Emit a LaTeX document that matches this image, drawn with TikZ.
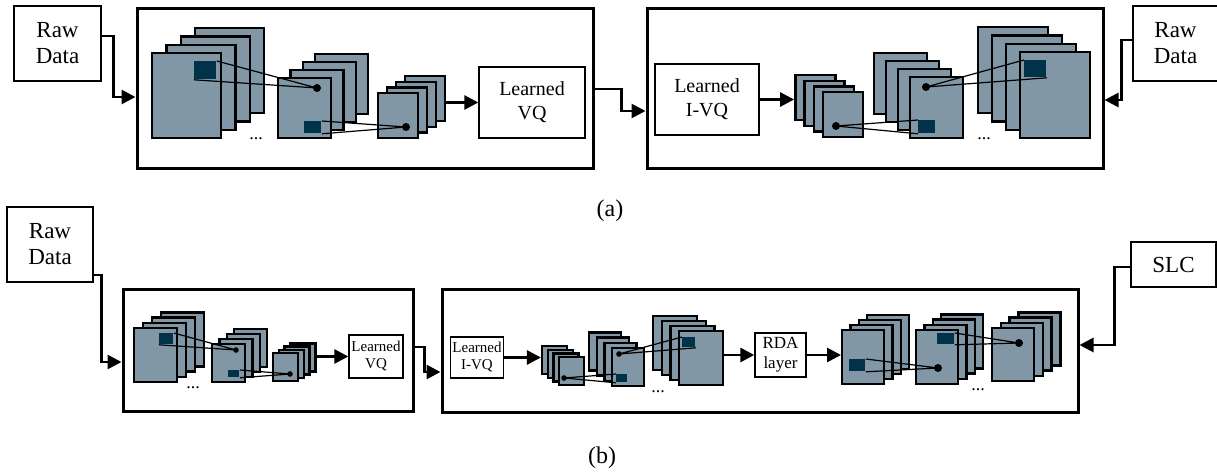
\documentclass[tikz,border=0pt]{standalone}
\usepackage{fontspec}
\setmainfont{Liberation Serif}
\usepackage{tikz}
\usetikzlibrary{positioning}
\usetikzlibrary{arrows.meta}
\usetikzlibrary{calc}

\definecolor{mapgray}{RGB}{129,151,165}
\definecolor{patchblue}{RGB}{0,51,74}

\tikzstyle{frame} = [draw, rectangle, line width=1.5pt, inner sep=0pt]
\tikzstyle{block} = [draw, fill=white, rectangle, line width=0.7pt, inner sep=1pt, align=center]
\tikzstyle{fmap} = [draw, fill=mapgray, rectangle, line width=1.2pt, inner sep=0pt, anchor=north west]
\tikzstyle{patch} = [fill=patchblue, rectangle, inner sep=0pt, anchor=north west]
\tikzstyle{branch} = [circle, inner sep=0pt, minimum size=4pt, fill=black]
\tikzstyle{sbranch} = [branch, minimum size=2.8pt]
\tikzstyle{flow} = [->, line width=1.4pt]
\tikzstyle{link} = [line width=0.6pt]
\tikzstyle{gap} = [inner sep=0pt, font=\fontsize{9}{9}\selectfont]

\newcommand{\bigtxt}{\fontsize{11.5}{13}\selectfont}
\newcommand{\midtxt}{\fontsize{10}{12}\selectfont}
\newcommand{\smalltxt}{\fontsize{7.5}{8.5}\selectfont}
\newcommand{\rdatxt}{\fontsize{8.5}{10}\selectfont}

% four feature maps: name, front corner x, y, width, height, layer offset x, y
\newcommand{\fstack}[7]{%
	\foreach \lay in {3,2,1}
		\node [fmap, minimum width=#4, minimum height=#5] (#1-\lay) at ({#2+\lay*(#6)},{#3+\lay*(#7)}) {};
	\node [fmap, minimum width=#4, minimum height=#5] (#1) at (#2,#3) {};
}

\begin{document}
\begin{tikzpicture}[auto, x=0.5pt, y=-0.5pt, >={Triangle[length=7pt, width=7pt]}]
	\useasboundingbox (0,0) rectangle (1217,476);

	% ---- (a) ----
	\node [block, minimum width=43.5pt, minimum height=37.5pt, font=\bigtxt] (rawA) at (57.5,43.5) {Raw\\Data};
	\node [frame, minimum width=228pt, minimum height=80pt] (encA) at (365,89) {};
	\node [frame, minimum width=228pt, minimum height=80pt] (decA) at (875,89) {};
	\node [block, minimum width=42.5pt, minimum height=37.5pt, font=\bigtxt] (rawA2) at (1175.5,43.5) {Raw\\Data};

	\fstack{A1}{151}{52}{34.5pt}{42.5pt}{14.3}{-8.3}
	\fstack{A2}{277}{77}{26.5pt}{30pt}{12.3}{-8}
	\fstack{A3}{377}{92}{20pt}{22.5pt}{9}{-5.7}
	\node [block, minimum width=53pt, minimum height=35.5pt, font=\midtxt] (vqA) at (532,102.5) {Learned\\VQ};

	\node [block, minimum width=52pt, minimum height=35.5pt, font=\midtxt] (ivqA) at (707,99.5) {Learned\\I-VQ};
	\fstack{A4}{822}{91}{20pt}{22.5pt}{-9.3}{-5.7}
	\fstack{A5}{909}{76}{26.5pt}{30.5pt}{-12}{-8}
	\fstack{A6}{1019}{51}{35pt}{43pt}{-14}{-8.3}

	\node [patch, minimum width=11pt, minimum height=9pt] (pA1) at (194,61) {};
	\node [patch, minimum width=8.5pt, minimum height=6pt] (pA2) at (304,121) {};
	\node [patch, minimum width=8.5pt, minimum height=6.5pt] (pA5) at (918,120) {};
	\node [patch, minimum width=11pt, minimum height=8.5pt] (pA6) at (1024,60) {};
	\node [branch] (dA2) at (317,88) {};
	\node [branch] (dA3) at (406,127) {};
	\node [branch] (dA4) at (836,126) {};
	\node [branch] (dA5) at (926,87) {};
	\draw [link] (pA1.north east) -- (dA2.center) (pA1.south west) -- (dA2.center);
	\draw [link] (pA2.north east) -- (dA3.center) (pA2.south east) -- (dA3.center);
	\draw [link] (dA4.center) -- (pA5.north west) (dA4.center) -- (pA5.south west);
	\draw [link] (dA5.center) -- (pA6.north west) (dA5.center) -- (pA6.south east);
	\node [gap] (gapA1) at (256,139) {...};
	\node [gap] (gapA2) at (984,139) {...};

	\draw [flow] ([yshift=3.75pt]rawA.east) -- ++(6pt,0) |- ([yshift=-4pt]encA.west);
	\draw [flow] (A3-3.east |- vqA.west) -- (vqA.west);
	\draw [flow] (encA.east) -- ++(13.5pt,0) |- ([yshift=-11pt]decA.west);
	\draw [flow] (ivqA.east) -- (ivqA.east -| A4-3.west);
	\draw [flow] ([yshift=1.75pt]rawA2.west) -- ++(-5.5pt,0) |- ([yshift=-5.5pt]decA.east);

	\node [font=\fontsize{12}{12}\selectfont] (capA) at (610,211) {(a)};

	% ---- (b) ----
	\node [block, minimum width=43pt, minimum height=37.5pt, font=\bigtxt] (rawB) at (50,244.5) {Raw\\Data};
	\node [frame, minimum width=145pt, minimum height=61pt] (encB) at (268,350) {};
	\node [frame, minimum width=318pt, minimum height=61.5pt] (decB) at (760,350.5) {};
	\node [block, minimum width=42.5pt, minimum height=22.5pt, font=\bigtxt] (slc) at (1173.5,264.5) {SLC};

	\fstack{B1}{133}{327}{21.5pt}{27pt}{9}{-5.3}
	\fstack{B2}{211}{343}{16.5pt}{19pt}{7.3}{-5}
	\fstack{B3}{272}{352}{12.5pt}{14pt}{5.7}{-3.3}
	\node [block, minimum width=27pt, minimum height=21.5pt, font=\smalltxt] (vqB) at (376,356.5) {Learned\\VQ};

	\node [block, minimum width=26pt, minimum height=20.5pt, font=\smalltxt] (ivqB) at (477,357.5) {Learned\\I-VQ};
	\fstack{B4}{558}{356}{12.5pt}{14pt}{-5.7}{-3.7}
	\fstack{B5}{611}{347}{16pt}{19pt}{-7.7}{-5.3}
	\fstack{B6}{678}{330}{22pt}{27pt}{-8.7}{-5}
	\node [block, minimum width=25.5pt, minimum height=22pt, font=\rdatxt] (rda) at (780.5,355) {RDA\\layer};
	\fstack{B7}{841}{329}{21pt}{27pt}{8.3}{-5}
	\fstack{B8}{915}{329}{21pt}{27pt}{8.3}{-5.3}
	\fstack{B9}{991}{327}{21pt}{26.5pt}{8.7}{-5.3}

	\node [patch, minimum width=7pt, minimum height=5.5pt] (pB1) at (159,333) {};
	\node [patch, minimum width=5.5pt, minimum height=3.5pt] (pB2) at (228,370) {};
	\node [patch, minimum width=5.5pt, minimum height=4pt] (pB5) at (616,374) {};
	\node [patch, minimum width=6.5pt, minimum height=5pt] (pB6) at (682,337) {};
	\node [patch, minimum width=8pt, minimum height=6pt] (pB7) at (849,359) {};
	\node [patch, minimum width=8.5pt, minimum height=5.5pt] (pB8) at (937,333) {};
	\node [sbranch] (dB2) at (236,350) {};
	\node [sbranch] (dB3) at (290,374) {};
	\node [sbranch] (dB4) at (564,378) {};
	\node [sbranch] (dB5) at (619,354) {};
	\node [branch] (dB8) at (938,368) {};
	\node [branch] (dB9) at (1019,343) {};
	\draw [link] (pB1.north east) -- (dB2.center) (pB1.south west) -- (dB2.center);
	\draw [link] (pB2.north east) -- (dB3.center) (pB2.south east) -- (dB3.center);
	\draw [link] (dB4.center) -- (pB5.north west) (dB4.center) -- (pB5.south west);
	\draw [link] (dB5.center) -- (pB6.north west) (dB5.center) -- (pB6.south east);
	\draw [link] (pB7.north east) -- (dB8.center) (pB7.south east) -- (dB8.center);
	\draw [link] (pB8.north east) -- (dB9.center) (pB8.south east) -- (dB9.center);
	\node [gap] (gapB1) at (193,388) {...};
	\node [gap] (gapB2) at (658,392) {...};
	\node [gap] (gapB3) at (978,390) {...};

	\draw [flow] ([yshift=-15.25pt]rawB.east) -- ++(4pt,0) |- ([yshift=-6pt]encB.west);
	\draw [flow] (B3-3.east |- vqB.west) -- (vqB.west);
	\draw [flow] ([yshift=1.5pt]encB.east) -- ++(5pt,0) |- ([yshift=-10.75pt]decB.west);
	\draw [flow] (ivqB.east) -- (ivqB.east -| B4-3.west);
	\draw [flow] (B6.east |- rda.west) -- (rda.west);
	\draw [flow] (rda.east) -- (rda.east -| B7.west);
	\draw [flow] ([yshift=-1.25pt]slc.west) -- ++(-8pt,0) |- ([yshift=2.75pt]decB.east);

	\node [font=\fontsize{12}{12}\selectfont] (capB) at (602,458) {(b)};
\end{tikzpicture}
\end{document}
